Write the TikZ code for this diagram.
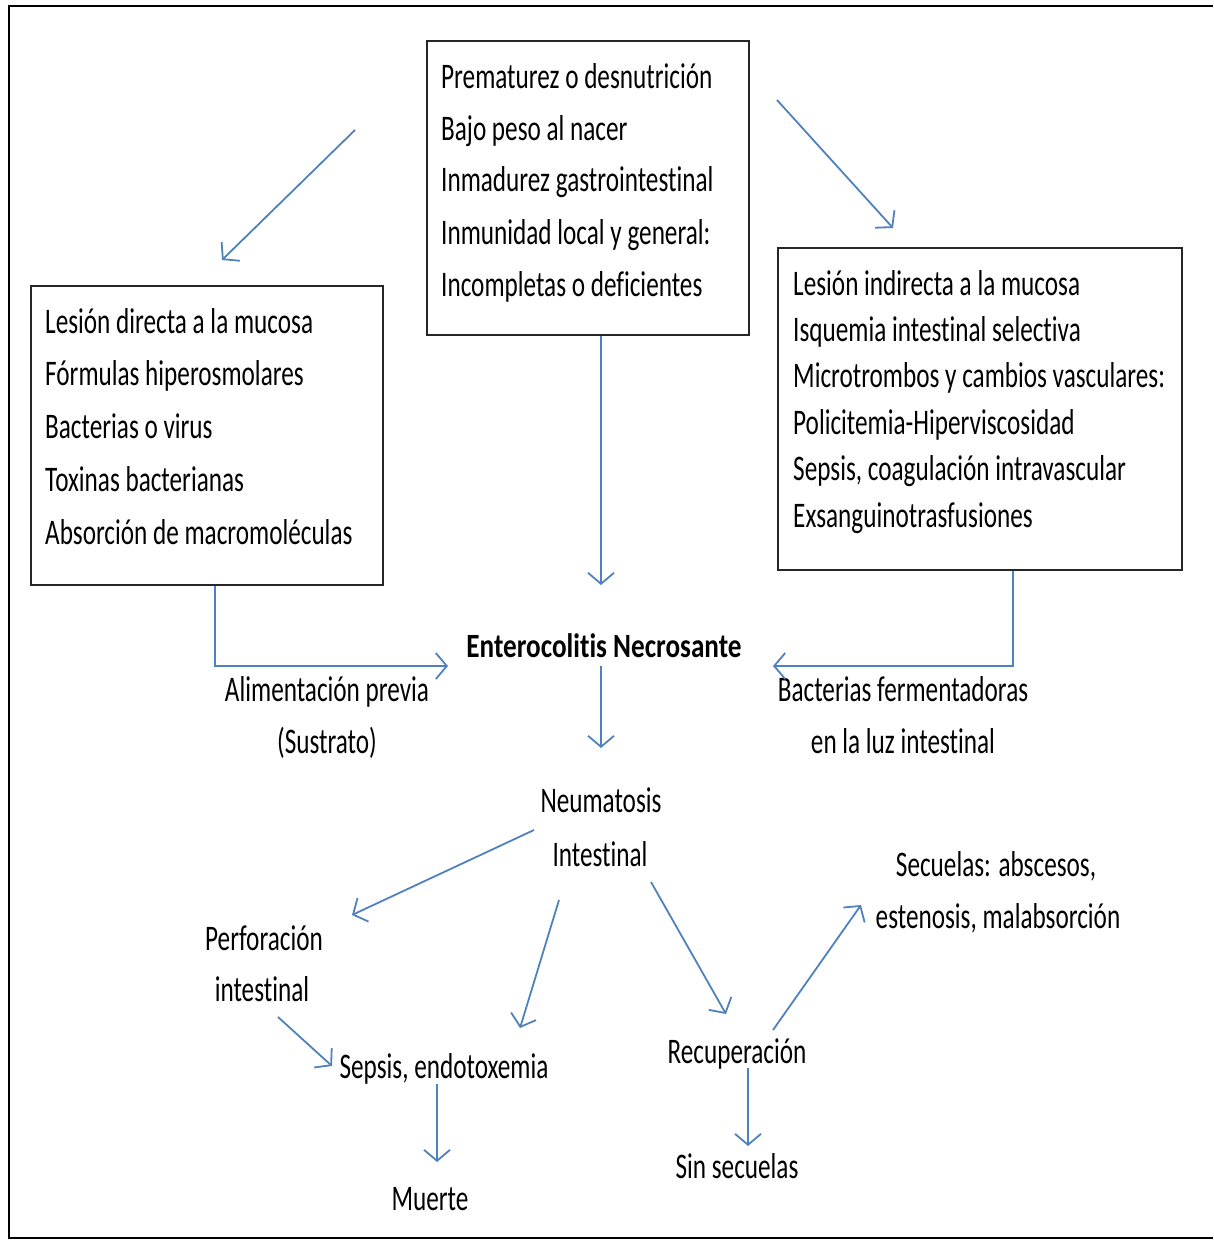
\documentclass[tikz,border=0pt]{standalone}
\usepackage{fontspec}
\setmainfont{Carlito}
\newfontfamily\cf[FakeStretch=0.70,Ligatures={NoCommon,NoContextual},RawFeature={-liga;-clig;-dlig}]{Carlito}
\newfontfamily\cfb[FakeStretch=0.80,Ligatures={NoCommon,NoContextual},RawFeature={-liga;-clig;-dlig}]{Carlito}
\usetikzlibrary{arrows.meta}
\definecolor{arrblue}{RGB}{79,129,189}
\begin{document}
\begin{tikzpicture}[x=1pt,y=-1pt,
  txt/.style={font=\cf\fontsize{36}{52}\selectfont, inner sep=0pt, anchor=base},
  boxnode/.style={draw=black!85, line width=1.6pt, anchor=north west, inner sep=0pt},
  boxtext/.style={inner sep=0pt, align=left, anchor=base west},
  arr/.style={draw=arrblue, line width=1.8pt, -{Straight Barb[length=11pt,width=26pt,line width=1.8pt]}}]
\useasboundingbox (0,0) rectangle (1213,1241);
% outer frame
\draw[line width=2.4pt] (1213,6) -- (9,6) -- (9,1238) -- (1213,1238);

% boxes (text nodes anchored at the baseline of their last line)
\node[boxnode, minimum width=322pt, minimum height=294pt] (top) at (426,40) {};
\node[boxtext, font=\cf\fontsize{36}{52}\selectfont] (toptxt) at (441,296)
  {Prematurez o desnutrición\\Bajo peso al nacer\\Inmadurez gastrointestinal\\Inmunidad local y general:\\Incompletas o deficientes};
\node[boxnode, minimum width=352pt, minimum height=299pt] (left) at (30,285) {};
\node[boxtext, font=\cf\fontsize{36}{52.7}\selectfont] (lefttxt) at (45,544)
  {Lesión directa a la mucosa\\Fórmulas hiperosmolares\\Bacterias o virus\\Toxinas bacterianas\\Absorción de macromoléculas};
\node[boxnode, minimum width=404pt, minimum height=322pt] (right) at (777,247) {};
\node[boxtext, font=\cf\fontsize{36}{46.4}\selectfont] (righttxt) at (793,527)
  {Lesión indirecta a la mucosa\\Isquemia intestinal selectiva\\Microtrombos y cambios vasculares:\\Policitemia-Hiperviscosidad\\Sepsis, coagulación intravascular\\Exsanguinotrasfusiones};

% labels
\node[inner sep=0pt, anchor=base, font=\cfb\bfseries\fontsize{34}{40}\selectfont] (enc) at (604,657) {Enterocolitis Necrosante};
\node[txt] (alim1) at (327,701) {Alimentación previa};
\node[txt] (alim2) at (327,753) {(Sustrato)};
\node[txt] (bact1) at (903,701) {Bacterias fermentadoras};
\node[txt] (bact2) at (903,753) {en la luz intestinal};
\node[txt] (neu1) at (601,812) {Neumatosis};
\node[txt] (neu2) at (600,866) {Intestinal};
\node[txt] (perf1) at (264,950) {Perforación};
\node[txt] (perf2) at (262,1001) {intestinal};
\node[txt] (sep) at (444,1078) {Sepsis, endotoxemia};
\node[txt] (mue) at (430,1210) {Muerte};
\node[txt] (rec) at (737,1063) {Recuperación};
\node[txt] (sin) at (737,1178) {Sin secuelas};
\node[txt] (sec1) at (996,876) {Secuelas: abscesos,};
\node[txt] (sec2) at (998,928) {estenosis, malabsorción};

% arrow end points
\coordinate (a1s) at (355,130);  \coordinate (a1e) at (222,260);
\coordinate (a2s) at (777,100);  \coordinate (a2e) at (893,228);
\coordinate (ecTop) at (601,585);
\coordinate (lbend) at (215,666); \coordinate (lin) at (448,666);
\coordinate (rbend) at (1013,666); \coordinate (rin) at (773,666);
\coordinate (encS) at (601,666); \coordinate (neuN) at (601,748);
\coordinate (n1s) at (534,830); \coordinate (n1e) at (352,915);
\coordinate (n2s) at (559,900); \coordinate (n2e) at (520,1028);
\coordinate (n3s) at (651,882); \coordinate (n3e) at (726,1014);
\coordinate (p1s) at (278,1017); \coordinate (p1e) at (332,1066);
\coordinate (s1s) at (437,1084); \coordinate (s1e) at (437,1162);
\coordinate (r1s) at (773,1030); \coordinate (r1e) at (861,905);
\coordinate (r2s) at (748,1068); \coordinate (r2e) at (748,1146);

% connectors
\draw[arr] (a1s) -- (a1e);
\draw[arr] (a2s) -- (a2e);
\draw[arr] (top.south -| ecTop) -- (ecTop);
\draw[arr] (left.south -| lbend) -- (lbend) -- (lin);
\draw[arr] (right.south -| rbend) -- (rbend) -- (rin);
\draw[arr] (encS) -- (neuN);
\draw[arr] (n1s) -- (n1e);
\draw[arr] (n2s) -- (n2e);
\draw[arr] (n3s) -- (n3e);
\draw[arr] (p1s) -- (p1e);
\draw[arr] (s1s) -- (s1e);
\draw[arr] (r1s) -- (r1e);
\draw[arr] (r2s) -- (r2e);
\end{tikzpicture}
\end{document}
